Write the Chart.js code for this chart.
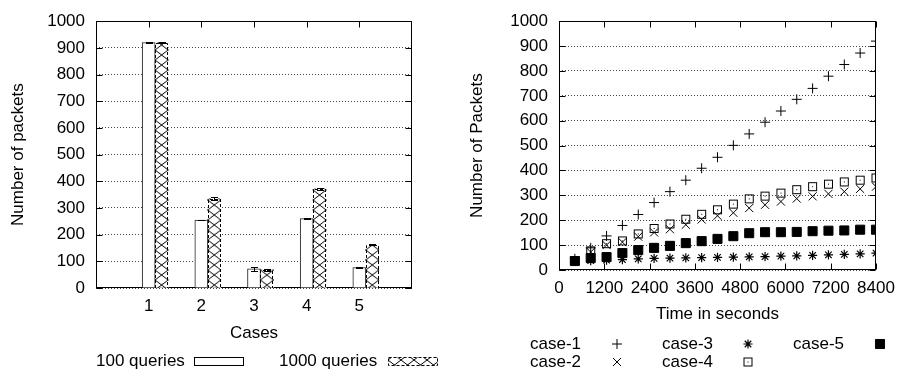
<!DOCTYPE html>
<html>
<head>
<meta charset="utf-8">
<script src="https://cdn.jsdelivr.net/npm/chart.js@4.4.1/dist/chart.umd.min.js"></script>
<style>
html,body{margin:0;padding:0;background:#fff;}
#wrap{position:relative;width:904px;height:374px;overflow:hidden;font-family:"Liberation Sans",Arial,Helvetica,sans-serif;font-size:17px;color:#000;}
#wrap canvas{position:absolute;top:0;}
.lg{position:absolute;line-height:20px;white-space:nowrap;}
</style>
</head>
<body>
<div id="wrap">
  <canvas id="c1" width="450" height="374" style="left:0"></canvas>
  <canvas id="c2" width="454" height="374" style="left:450px"></canvas>
  <div class="lg" style="left:96px;top:351px">100 queries</div>
  <div class="lg" style="left:279px;top:351px">1000 queries</div>
  <div class="lg" style="left:530px;top:334px">case-1</div>
  <div class="lg" style="left:662px;top:334px">case-3</div>
  <div class="lg" style="left:793px;top:334px">case-5</div>
  <div class="lg" style="left:530px;top:352px">case-2</div>
  <div class="lg" style="left:662px;top:352px">case-4</div>
</div>
<script>
// ---------------- data: left chart ----------------
const cases = [1, 2, 3, 4, 5];
const q100 = [920, 255, 72, 260, 77];
const q100Err = [2, 1, 8, 1, 1];
const q1000 = [920, 335, 68, 372, 163];
const q1000Err = [3, 6, 5, 3, 3];

// ---------------- data: right chart ----------------
const timeSec = [420, 840, 1260, 1680, 2100, 2520, 2940, 3360, 3780, 4200,
                 4620, 5040, 5460, 5880, 6300, 6720, 7140, 7560, 7980, 8400];
const case1 = [45, 89, 137, 179, 223, 271, 315, 361, 409, 453, 501, 547, 594, 639, 686, 730, 779, 826, 872, 920];
const case2 = [38, 72, 100, 112, 134, 151, 164, 182, 203, 218, 230, 249, 262, 275, 287, 296, 306, 315, 326, 335];
const case3 = [35, 38, 40, 42, 45, 47, 48, 49, 50, 51, 52, 53, 54, 56, 57, 59, 61, 63, 65, 68];
const case4 = [38, 77, 106, 117, 145, 167, 185, 204, 224, 242, 265, 286, 297, 309, 323, 335, 345, 354, 361, 370];
const case5 = [36, 48, 52, 68, 80, 89, 97, 108, 116, 125, 136, 148, 152, 152, 153, 156, 158, 159, 162, 162];

const yTicksMax = 1000;
const xTimeMax = 8400;

// ---------------- styling helpers ----------------
const FONT = {family: '"Liberation Sans", Arial, Helvetica, sans-serif', size: 17};
const BAR_SHIFT = 0.245;
const plainNum = (v) => String(v);

function hatchPattern(offsetX) {
  const c = document.createElement('canvas');
  c.width = 13; c.height = 10;
  const g = c.getContext('2d');
  g.fillStyle = '#fff'; g.fillRect(0, 0, 13, 10);
  g.strokeStyle = '#000'; g.lineWidth = 1;
  g.beginPath();
  g.moveTo(0, 0); g.lineTo(13, 10);
  g.moveTo(13, 0); g.lineTo(0, 10);
  g.stroke();
  const p = g.createPattern(c, 'repeat');
  if (p.setTransform && isFinite(offsetX)) p.setTransform(new DOMMatrix([1, 0, 0, 1, offsetX, 0]));
  return p;
}

function squareDotImage() {
  const c = document.createElement('canvas');
  c.width = 11; c.height = 11;
  const g = c.getContext('2d');
  g.strokeStyle = '#000'; g.lineWidth = 1;
  g.strokeRect(1.5, 1.5, 8, 8);
  g.fillStyle = '#000';
  g.fillRect(5, 5, 1, 1);
  return c;
}

const framePlugin = {
  id: 'frame',
  beforeDatasetsDraw(chart) {
    const {ctx, chartArea: a} = chart;
    const xs = chart.scales.x, ys = chart.scales.y;
    const L = Math.round(a.left) + 0.5, R = Math.round(a.right) - 0.5;
    const T = Math.round(a.top) + 0.5, B = Math.round(a.bottom) - 0.5;
    const tl = 6;
    ctx.save();
    ctx.strokeStyle = '#000'; ctx.lineWidth = 1; ctx.setLineDash([]);
    ctx.beginPath();
    xs.ticks.forEach(t => {
      const p = Math.round(xs.getPixelForValue(t.value)) + 0.5;
      ctx.moveTo(p, T); ctx.lineTo(p, T + tl);
      ctx.moveTo(p, B); ctx.lineTo(p, B - tl);
    });
    ys.ticks.forEach(t => {
      const p = Math.round(ys.getPixelForValue(t.value)) + 0.5;
      ctx.moveTo(L, p); ctx.lineTo(L + tl, p);
      ctx.moveTo(R, p); ctx.lineTo(R - tl, p);
    });
    ctx.stroke();
    ctx.strokeRect(L, T, R - L, B - T);
    ctx.restore();
  }
};

const barExtrasPlugin = {
  id: 'barExtras',
  afterDatasetsDraw(chart) {
    const {ctx} = chart;
    const ys = chart.scales.y;
    ctx.save();
    ctx.strokeStyle = '#000'; ctx.lineWidth = 1;
    chart.data.datasets.forEach((ds, di) => {
      const meta = chart.getDatasetMeta(di);
      meta.data.forEach((el, i) => {
        if (ds.dashedBorder) {
          const l = Math.round(el.x - el.width / 2) + 0.5, r = Math.round(el.x + el.width / 2) - 0.5;
          const t = Math.round(el.y) + 0.5, b = Math.round(el.base);
          ctx.setLineDash([3, 2]);
          ctx.beginPath();
          ctx.moveTo(l, b); ctx.lineTo(l, t); ctx.lineTo(r, t); ctx.lineTo(r, b);
          ctx.stroke();
          ctx.setLineDash([]);
        }
        const v = ds.data[i].y, e = ds.errors[i];
        const x = Math.round(el.x) + 0.5;
        const y1 = Math.round(ys.getPixelForValue(v + e)) + 0.5;
        const y2 = Math.round(ys.getPixelForValue(v - e)) + 0.5;
        ctx.beginPath();
        ctx.moveTo(x, y1); ctx.lineTo(x, y2);
        ctx.moveTo(x - 3.5, y1); ctx.lineTo(x + 3.5, y1);
        ctx.moveTo(x - 3.5, y2); ctx.lineTo(x + 3.5, y2);
        ctx.stroke();
      });
    });
    // legend samples
    ctx.strokeStyle = '#000';
    ctx.fillStyle = '#fff';
    ctx.fillRect(194.5, 357.5, 49, 8);
    ctx.strokeRect(194.5, 357.5, 49, 8);
    ctx.fillStyle = hatchPattern(388);
    ctx.fillRect(388.5, 357.5, 49, 8);
    ctx.setLineDash([3, 2]);
    ctx.strokeRect(388.5, 357.5, 49, 8);
    ctx.restore();
  }
};

// ---------------- left chart ----------------
new Chart(document.getElementById('c1'), {
  type: 'bar',
  data: {
    datasets: [
      {
        label: '100 queries',
        data: cases.map((c, i) => ({x: c, y: q100[i]})),
        errors: q100Err,
        backgroundColor: '#fff',
        borderColor: '#222',
        borderWidth: 1,
        barThickness: 13,
        grouped: false
      },
      {
        label: '1000 queries',
        data: cases.map((c, i) => ({x: c + BAR_SHIFT, y: q1000[i]})),
        errors: q1000Err,
        dashedBorder: true,
        backgroundColor: (c) => {
          const xs = c.chart.scales && c.chart.scales.x;
          if (!xs || !c.raw) return hatchPattern(0);
          const px = xs.getPixelForValue(c.raw.x) - 6.5;
          return hatchPattern(isFinite(px) ? px : 0);
        },
        borderWidth: 0,
        barThickness: 13,
        grouped: false
      }
    ]
  },
  options: {
    responsive: false,
    animation: false,
    devicePixelRatio: 1,
    layout: {padding: {left: 0, top: 9, right: 38, bottom: 30}},
    plugins: {legend: {display: false}, tooltip: {enabled: false}},
    scales: {
      x: {
        type: 'linear',
        offset: false,
        min: 0, max: 6,
        afterBuildTicks: (s) => { s.ticks = cases.map(v => ({value: v})); },
        afterFit: (s) => { s.height = 56; },
        grid: {display: false, drawTicks: false, offset: false},
        border: {display: false},
        ticks: {font: FONT, color: '#000', padding: 8, maxRotation: 0, autoSkip: false, callback: plainNum},
        title: {display: true, text: 'Cases', font: FONT, color: '#000', padding: {top: 0, bottom: 0}}
      },
      y: {
        min: 0, max: yTicksMax,
        afterFit: (s) => { s.width = 96; },
        grid: {color: '#444', lineWidth: 1, drawTicks: false},
        border: {display: false, dash: [1, 2]},
        ticks: {stepSize: 100, font: FONT, color: '#000', padding: 11, callback: plainNum},
        title: {display: true, text: 'Number of packets', font: FONT, color: '#000', padding: {top: 8.3, bottom: 8.3}}
      }
    }
  },
  plugins: [framePlugin, barExtrasPlugin]
});

// ---------------- right chart ----------------
const sqDot = squareDotImage();
function series(label, vals, style, radius, fill, bw) {
  return {
    label,
    data: timeSec.map((t, i) => ({x: t, y: vals[i]})),
    pointStyle: style,
    pointRadius: radius,
    pointBorderColor: '#000',
    pointBackgroundColor: fill ? '#000' : 'rgba(0,0,0,0)',
    pointBorderWidth: bw || 1,
    showLine: false
  };
}
const rightSets = [
  series('case-1', case1, 'cross', 5, false),
  series('case-2', case2, 'crossRot', 5.7, false),
  series('case-3', case3, 'star', 4.6, false, 1.2),
  series('case-4', case4, sqDot, 5, false),
  series('case-5', case5, 'rect', 6.4, true)
];

const legendSymbols = {
  id: 'legendSymbols',
  afterDraw(chart) {
    const {ctx} = chart;
    const pos = [[167, 344], [167, 362], [298, 344], [298, 362], [430, 344]];
    ctx.save();
    chart.data.datasets.forEach((ds, i) => {
      const el = chart.getDatasetMeta(i).data[0];
      const o = el.options;
      ctx.strokeStyle = o.borderColor;
      ctx.fillStyle = o.backgroundColor;
      ctx.lineWidth = o.borderWidth;
      Chart.helpers.drawPoint(ctx, {pointStyle: o.pointStyle, radius: o.radius, borderWidth: o.borderWidth, rotation: 0}, pos[i][0], pos[i][1]);
    });
    ctx.restore();
  }
};

new Chart(document.getElementById('c2'), {
  type: 'scatter',
  data: {datasets: rightSets},
  options: {
    responsive: false,
    animation: false,
    devicePixelRatio: 1,
    layout: {padding: {left: 0, top: 9, right: 28, bottom: 49.8}},
    plugins: {legend: {display: false}, tooltip: {enabled: false}},
    scales: {
      x: {
        type: 'linear',
        min: 0, max: xTimeMax,
        afterFit: (s) => { s.height = 54.2; },
        grid: {display: false, drawTicks: false},
        border: {display: false},
        ticks: {stepSize: 1200, font: FONT, color: '#000', padding: 8, maxRotation: 0, autoSkip: false, callback: plainNum},
        title: {display: true, text: 'Time in seconds', font: FONT, color: '#000', padding: {top: 0, bottom: 0}}
      },
      y: {
        min: 0, max: yTicksMax,
        afterFit: (s) => { s.width = 109; },
        grid: {color: '#444', lineWidth: 1, drawTicks: false},
        border: {display: false, dash: [1, 2]},
        ticks: {stepSize: 100, font: FONT, color: '#000', padding: 11, callback: plainNum},
        title: {display: true, text: 'Number of Packets', font: FONT, color: '#000', padding: {top: 17.3, bottom: 17.3}}
      }
    }
  },
  plugins: [framePlugin, legendSymbols]
});
</script>
</body>
</html>
